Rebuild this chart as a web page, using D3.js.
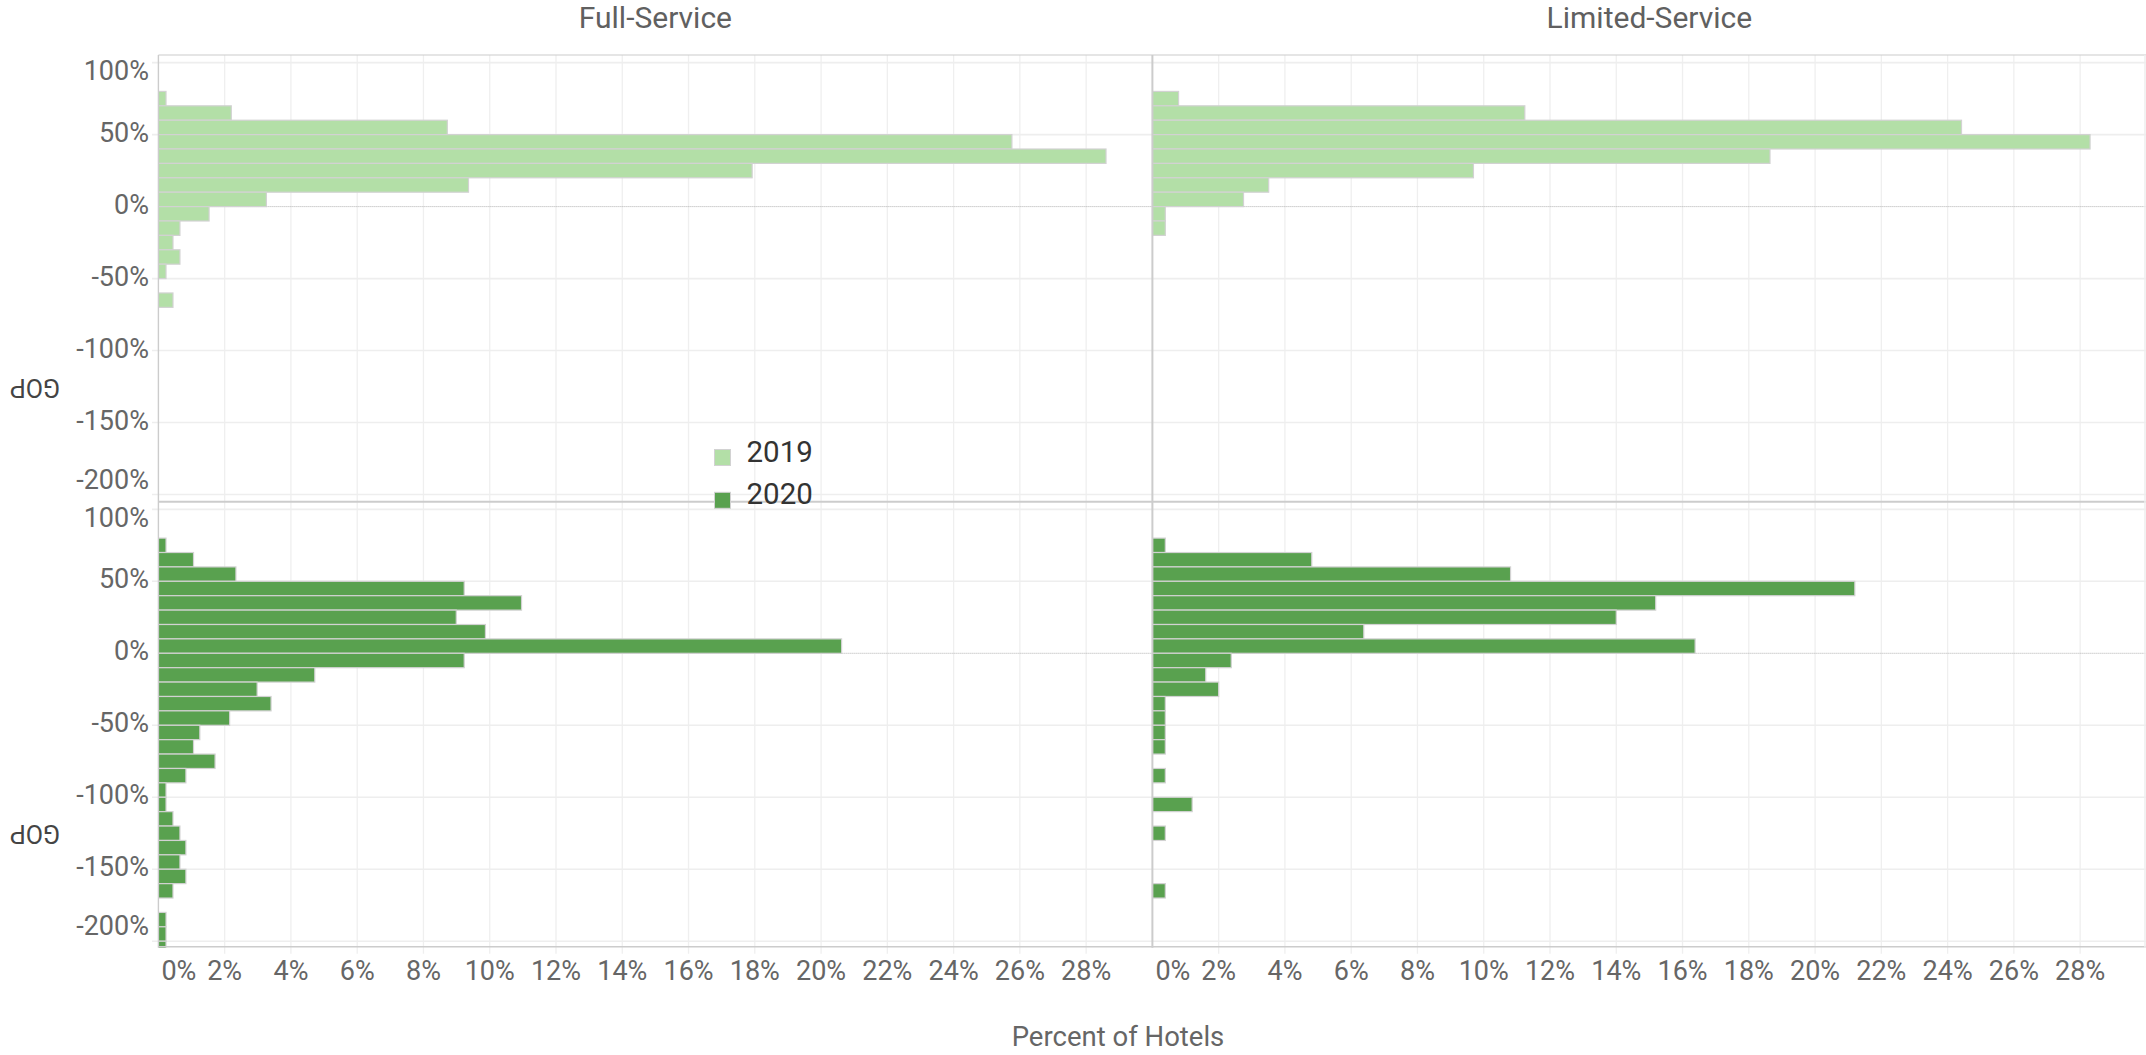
<!DOCTYPE html>
<html>
<head>
<meta charset="utf-8">
<script src="https://cdn.jsdelivr.net/npm/d3@7"></script>
<style>
  html, body { margin: 0; padding: 0; background: #fff; }
  svg { display: block; font-family: Roboto, "Noto Sans", sans-serif; }
</style>
</head>
<body>
<svg id="chart" width="2146" height="1055"></svg>
<script>
// ---------- data ----------
const panelNames = ["Full-Service", "Limited-Service"];
const yearNames = ["2019", "2020"];
// lower edge of each 10%-wide GOP bin
const binLower = [70, 60, 50, 40, 30, 20, 10, 0, -10, -20, -30, -40, -50, -60, -70,
                  -80, -90, -100, -110, -120, -130, -140, -150, -160, -170, -180, -190, -200, -210];
const fullService2019 = [0.23, 2.2, 8.72, 25.76, 28.6, 17.92, 9.36, 3.26, 1.53, 0.65, 0.44, 0.65, 0.23, null, 0.44,
                         null, null, null, null, null, null, null, null, null, null, null, null, null, null];
const limitedService2019 = [0.79, 11.24, 24.42, 28.3, 18.64, 9.69, 3.51, 2.75, 0.39, 0.39, null, null, null, null, null,
                            null, null, null, null, null, null, null, null, null, null, null, null, null, null];
const fullService2020 = [0.23, 1.06, 2.34, 9.23, 10.96, 8.99, 9.87, 20.62, 9.23, 4.72, 2.98, 3.40, 2.15, 1.25, 1.06,
                         1.71, 0.83, 0.23, 0.23, 0.44, 0.65, 0.83, 0.65, 0.83, 0.44, null, 0.23, 0.23, 0.23];
const limitedService2020 = [0.39, 4.81, 10.81, 21.2, 15.19, 14.0, 6.38, 16.38, 2.38, 1.61, 2.0, 0.39, 0.39, 0.39, 0.39,
                            null, 0.39, null, 1.2, null, 0.39, null, null, null, 0.39, null, null, null, null];
const xTickValues = [0, 2, 4, 6, 8, 10, 12, 14, 16, 18, 20, 22, 24, 26, 28];
const yTickValues = [100, 50, 0, -50, -100, -150, -200];
const xDomain = [0, 30];
const yDomain = [-204.5, 105.3];
const binWidth = 10;

const seriesGrid = [
  [fullService2019, limitedService2019],
  [fullService2020, limitedService2020]
];

// ---------- layout ----------
const W = 2146, H = 1055;
const paneLeft = [158.4, 1152.4];
const paneW = 994;
const rowTop = [55, 501.7];
const rowH = 446;
const colors = ["#b3dfa7", "#59a14f"];

const svg = d3.select("#chart");

const xScales = paneLeft.map(l => d3.scaleLinear().domain(xDomain).range([l, l + paneW]));
const yScales = rowTop.map(t => d3.scaleLinear().domain(yDomain).range([t + rowH, t]));

const defs = svg.append("defs");
rowTop.forEach((t, r) => {
  paneLeft.forEach((l, c) => {
    defs.append("clipPath").attr("id", `clip-${r}-${c}`)
      .append("rect").attr("x", l).attr("y", t).attr("width", paneW).attr("height", rowH);
  });
});

const grid = svg.append("g");
// vertical gridlines + small ticks below bottom axis
rowTop.forEach((t, r) => {
  xScales.forEach((xs) => {
    grid.selectAll(null).data(xTickValues.filter(d => d > 0)).enter().append("line")
      .attr("x1", d => xs(d)).attr("x2", d => xs(d))
      .attr("y1", t).attr("y2", r === 1 ? t + rowH + 6 : t + rowH)
      .attr("stroke", "#efefef").attr("stroke-width", 1.3);
  });
});
// horizontal gridlines
yScales.forEach((ys) => {
  grid.selectAll(null).data(yTickValues.filter(d => d !== 0)).enter().append("line")
    .attr("x1", 152).attr("x2", W)
    .attr("y1", d => ys(d)).attr("y2", d => ys(d))
    .attr("stroke", "#eeeeee").attr("stroke-width", 1.6);
  grid.append("line")
    .attr("x1", paneLeft[0]).attr("x2", W)
    .attr("y1", ys(0)).attr("y2", ys(0))
    .attr("stroke", "#b0b0b0").attr("stroke-width", 1).attr("stroke-dasharray", "1,1");
});

// bars
const barsG = svg.append("g");
seriesGrid.forEach((rowSeries, r) => {
  rowSeries.forEach((vals, c) => {
    const xs = xScales[c], ys = yScales[r];
    const data = binLower.map((b, i) => ({ lower: b, value: vals[i] })).filter(d => d.value != null);
    barsG.append("g").attr("clip-path", `url(#clip-${r}-${c})`)
      .selectAll("rect").data(data).enter().append("rect")
      .attr("x", xs(0))
      .attr("y", d => ys(d.lower + binWidth))
      .attr("width", d => xs(d.value) - xs(0))
      .attr("height", d => ys(d.lower) - ys(d.lower + binWidth))
      .attr("fill", colors[r])
      .attr("stroke", "#d2d2d2").attr("stroke-width", 1.2);
  });
});

// frame lines
const frame = svg.append("g").attr("stroke", "#cccccc").attr("fill", "none");
frame.append("line").attr("x1", paneLeft[0]).attr("x2", W).attr("y1", rowTop[0]).attr("y2", rowTop[0]).attr("stroke-width", 1.2);
frame.append("line").attr("x1", paneLeft[0]).attr("x2", paneLeft[0]).attr("y1", rowTop[0]).attr("y2", rowTop[1] + rowH).attr("stroke-width", 1.4);
frame.append("line").attr("x1", paneLeft[1]).attr("x2", paneLeft[1]).attr("y1", rowTop[0]).attr("y2", rowTop[1] + rowH).attr("stroke-width", 2);
frame.append("line").attr("x1", paneLeft[0]).attr("x2", W).attr("y1", rowTop[1]).attr("y2", rowTop[1]).attr("stroke-width", 2);
frame.append("line").attr("x1", paneLeft[0]).attr("x2", W).attr("y1", rowTop[1] + rowH - 1).attr("y2", rowTop[1] + rowH - 1).attr("stroke-width", 1.6);
frame.append("line").attr("x1", W - 1).attr("x2", W - 1).attr("y1", rowTop[0]).attr("y2", rowTop[1] + rowH).attr("stroke", "#eeeeee").attr("stroke-width", 1.5);

// panel titles
svg.selectAll(null).data(panelNames).enter().append("text")
  .attr("x", (d, i) => paneLeft[i] + paneW / 2)
  .attr("y", 28)
  .attr("text-anchor", "middle")
  .attr("font-size", 30)
  .attr("fill", "#606060")
  .text(d => d);

// y tick labels
const fmt = d => d + "%";
yScales.forEach((ys, r) => {
  const top = rowTop[r], bottom = rowTop[r] + rowH;
  svg.selectAll(null).data(yTickValues).enter().append("text")
    .attr("x", 149)
    .attr("y", d => Math.min(Math.max(ys(d) + 7, top + 25), bottom - 12.5))
    .attr("text-anchor", "end")
    .attr("font-size", 27)
    .attr("fill", "#666666")
    .text(fmt);
  // axis title, upside down
  const cy = top + 332;
  svg.append("text")
    .attr("transform", `translate(35,${cy}) rotate(180)`)
    .attr("text-anchor", "middle")
    .attr("dominant-baseline", "central")
    .attr("font-size", 25)
    .attr("fill", "#444444")
    .text("GOP");
});

// x tick labels
xScales.forEach((xs, c) => {
  svg.selectAll(null).data(xTickValues).enter().append("text")
    .attr("x", d => d === 0 ? xs(0) + 3 : xs(d))
    .attr("y", 980)
    .attr("text-anchor", d => d === 0 ? "start" : "middle")
    .attr("font-size", 27)
    .attr("fill", "#666666")
    .text(fmt);
});

svg.append("text")
  .attr("x", 1118).attr("y", 1046)
  .attr("text-anchor", "middle")
  .attr("font-size", 27.5)
  .attr("fill", "#666666")
  .text("Percent of Hotels");

// legend
const legend = svg.append("g");
const legendRows = [457.5, 500.3];
legend.selectAll("rect").data(yearNames).enter().append("rect")
  .attr("x", 714.5).attr("y", (d, i) => legendRows[i] - 8)
  .attr("width", 16).attr("height", 16)
  .attr("fill", (d, i) => colors[i])
  .attr("stroke", "#d2d2d2").attr("stroke-width", 1);
legend.selectAll("text").data(yearNames).enter().append("text")
  .attr("x", 746.5).attr("y", (d, i) => legendRows[i] + 4)
  .attr("font-size", 29.5)
  .attr("fill", "#333333")
  .text(d => d);
</script>
</body>
</html>
